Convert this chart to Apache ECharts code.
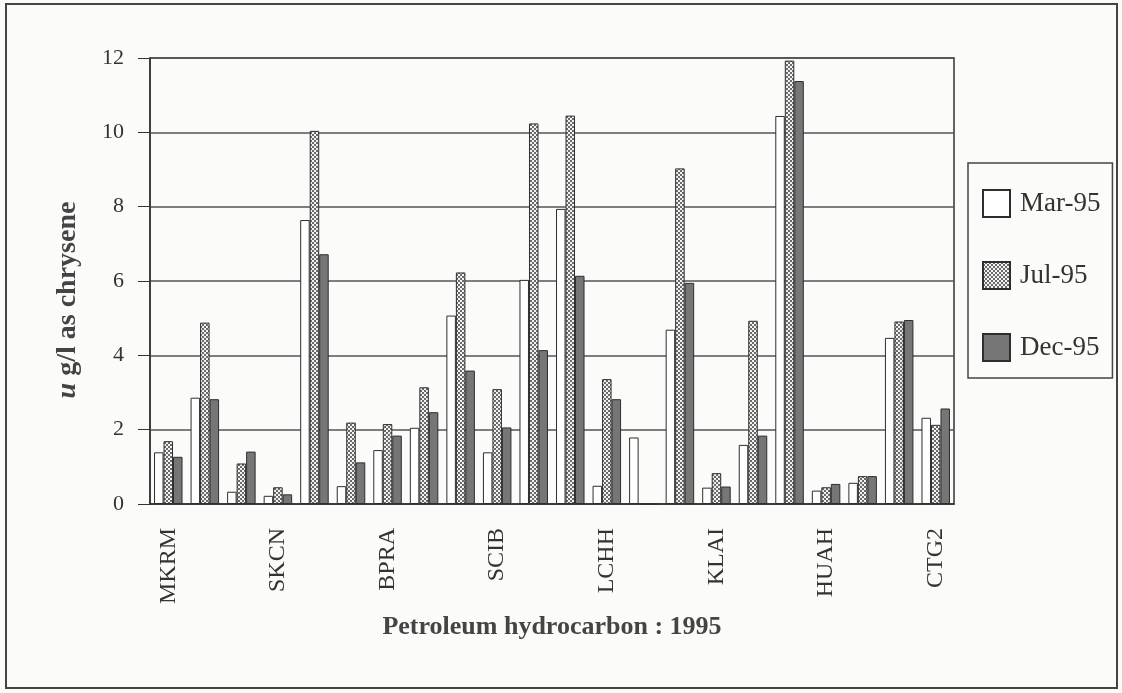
<!DOCTYPE html>
<html>
<head>
<meta charset="utf-8">
<script src="https://cdn.jsdelivr.net/npm/echarts@6/dist/echarts.min.js"></script>
<style>
  html, body { margin: 0; padding: 0; background: #fbfbf9; }
  #chart { width: 1122px; height: 693px; }
</style>
</head>
<body>
<div id="chart"></div>
<script>
// 站点标签（每三个类别显示一个）
const siteLabels = ['MKRM', 'SKCN', 'BPRA', 'SCIB', 'LCHH', 'KLAI', 'HUAH', 'CTG2'];
const seriesNames = ['Mar-95', 'Jul-95', 'Dec-95'];
const yTicks = [0, 2, 4, 6, 8, 10, 12];

// 数值 (u g/l as chrysene)
const mar95 = [1.39, 2.86, 0.33, 0.22, 7.64, 0.48, 1.45, 2.05, 5.07, 1.39, 6.03,
               7.94, 0.49, 1.79, 4.69, 0.44, 1.59, 10.44, 0.36, 0.57, 4.47, 2.32];
const jul95 = [1.69, 4.88, 1.09, 0.45, 10.04, 2.19, 2.15, 3.14, 6.23, 3.09, 10.24,
               10.45, 3.36, 0, 9.03, 0.83, 4.93, 11.93, 0.45, 0.75, 4.91, 2.13];
const dec95 = [1.27, 2.82, 1.41, 0.26, 6.72, 1.12, 1.84, 2.47, 3.59, 2.06, 4.14,
               6.14, 2.82, 0, 5.95, 0.47, 1.84, 11.38, 0.54, 0.75, 4.95, 2.57];

const categories = mar95.map((v, i) => String(i));
const serif = '"Liberation Serif", "DejaVu Serif", serif';
const ink = '#333';

// 点状图案
function makePattern() {
    const c = document.createElement('canvas');
    c.width = 4;
    c.height = 4;
    const ctx = c.getContext('2d');
    ctx.fillStyle = '#6a6a6a';
    ctx.fillRect(0, 0, 4, 4);
    ctx.fillStyle = '#f2f2f2';
    ctx.fillRect(0, 0, 2, 2);
    ctx.fillRect(2, 2, 2, 2);
    return c;
}

const chart = echarts.init(document.getElementById('chart'));
const fills = ['#ffffff', { image: makePattern(), repeat: 'repeat' }, '#767676'];

chart.setOption({
    backgroundColor: '#fbfbf9',
    animation: false,
    graphic: [{
        type: 'rect',
        shape: { x: 6, y: 4, width: 1111, height: 684 },
        style: { fill: 'none', stroke: '#444', lineWidth: 2 },
        silent: true
    }],
    grid: {
        left: 150,
        right: 168,
        top: 58,
        bottom: 189,
        show: true,
        borderColor: ink,
        borderWidth: 1.5,
        backgroundColor: 'transparent'
    },
    legend: {
        data: seriesNames,
        orient: 'vertical',
        left: 968,
        top: 163,
        width: 145,
        icon: 'rect',
        itemWidth: 27,
        itemHeight: 27,
        itemGap: 43,
        padding: [26, 12, 16, 14],
        borderColor: '#444',
        borderWidth: 1.5,
        textStyle: {
            fontFamily: serif,
            fontSize: 27,
            color: ink,
            padding: [0, 0, 0, 5]
        }
    },
    xAxis: {
        type: 'category',
        data: categories,
        name: 'Petroleum hydrocarbon : 1995',
        nameLocation: 'middle',
        nameGap: 110,
        nameTextStyle: {
            fontFamily: serif,
            fontSize: 26,
            fontWeight: 'bold',
            color: '#444'
        },
        axisLine: { lineStyle: { color: ink, width: 1.5 } },
        axisTick: { length: 10, lineStyle: { color: ink } },
        axisLabel: {
            rotate: 90,
            interval: 0,
            margin: 24,
            fontFamily: serif,
            fontSize: 24,
            color: ink,
            formatter: function (v, i) {
                return i % 3 === 0 ? siteLabels[i / 3] : '';
            }
        }
    },
    yAxis: {
        type: 'value',
        min: yTicks[0],
        max: yTicks[yTicks.length - 1],
        interval: yTicks[1] - yTicks[0],
        name: '{i|u} g/l as chrysene',
        nameLocation: 'middle',
        nameRotate: 90,
        nameGap: 68,
        nameTextStyle: {
            fontFamily: serif,
            fontSize: 28,
            fontWeight: 'bold',
            color: '#444',
            padding: [0, 38, 0, 0],
            rich: {
                i: {
                    fontFamily: serif,
                    fontSize: 28,
                    fontWeight: 'bold',
                    fontStyle: 'italic',
                    color: '#444'
                }
            }
        },
        axisLine: { show: true, lineStyle: { color: ink, width: 1.5 } },
        axisTick: { show: true, length: 12, lineStyle: { color: ink } },
        axisLabel: {
            margin: 26,
            fontFamily: serif,
            fontSize: 22,
            color: ink
        },
        splitLine: { lineStyle: { color: '#555', width: 1.5 } }
    },
    series: [mar95, jul95, dec95].map((data, k) => ({
        name: seriesNames[k],
        type: 'bar',
        data: data,
        barGap: '0%',
        barCategoryGap: '22%',
        itemStyle: {
            color: fills[k],
            borderColor: '#2e2e2e',
            borderWidth: 1
        }
    }))
});
</script>
</body>
</html>
